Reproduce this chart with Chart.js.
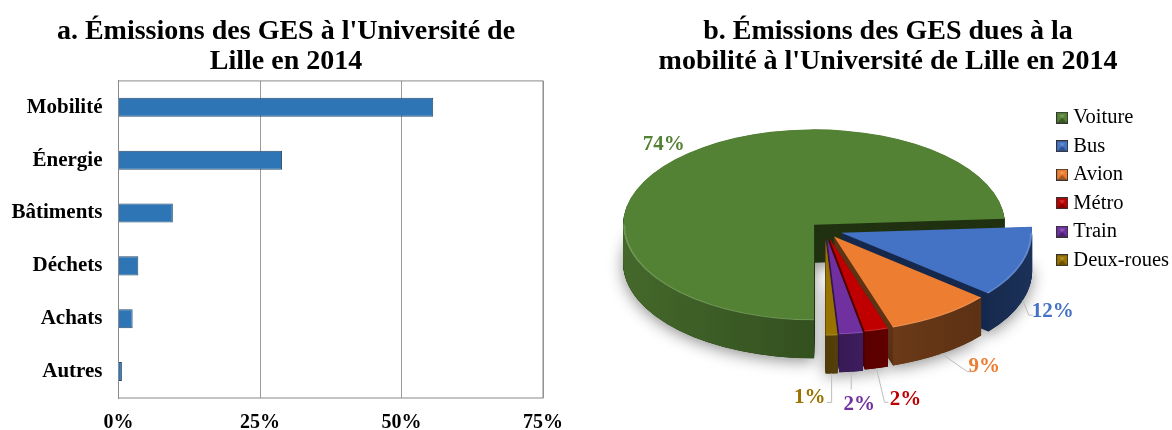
<!DOCTYPE html>
<html lang="fr">
<head>
<meta charset="utf-8">
<title>Émissions des GES</title>
<script src="https://cdn.jsdelivr.net/npm/chart.js@4"></script>
<style>
  html, body { margin: 0; background: #fff; }
  canvas { position: absolute; top: 0; }
  #barres { left: 0; }
  #secteurs { left: 604px; }
</style>
</head>
<body>
<canvas id="barres" width="572" height="430"></canvas>
<canvas id="secteurs" width="568" height="430"></canvas>
<script>
const sources = ["Mobilité", "Énergie", "Bâtiments", "Déchets", "Achats", "Autres"];
const sourceValues = [55.6, 28.9, 9.6, 3.5, 2.5, 0.6];
const xTicks = [0, 25, 50, 75];

const modes = ["Voiture", "Bus", "Avion", "Métro", "Train", "Deux-roues"];
const modeValues = [74, 12, 9, 2, 2, 1];

// couleurs du camembert
const topColors = ["#548235", "#4472C4", "#ED7D31", "#C00000", "#7030A0", "#997300"];
const faceColors = ["#213212", "#172A4E", "#5F3315", "#500000", "#381A55", "#4F3A08"];
const rimColors = [["#44682B", "#33501F"], ["#172A4E", "#1B3159"], ["#6B3A18", "#5C3114"],
  ["#5A0000", "#600000"], ["#381A55", "#3E1D5E"], ["#4F3A08", "#54400A"]];

// réglages de la perspective
const pieCenter = { x: 221, y: 230 };
const squash = 0.5;
const depth = 38;
const explode = [15, 17, 16, 16, 18, 20];
// étiquettes : décalage depuis le bord de la part, puis points du trait de rappel
const labelShift = [[-11, -15], [30, 11], [43, 13], [29, 31], [8, 33], [-22, 24]];
const leaders = [[], [[0, 0], [6, 15], [10, 15]], [[0, 0], [26, 18], [31, 18]], [[0, 0], [8, 34], [12, 34]],
  [[0, 0], [0, 18]], [[0, 0], [0, 29], [-5, 29]]];

const serif = "'Liberation Serif'";
const titleFont = { family: serif, size: 28, weight: "bold", lineHeight: 1.07 };
const tickFont = { family: serif, size: 20, weight: "bold" };
const categoryFont = { family: serif, size: 21, weight: "bold" };

const frame = {
  id: "frame",
  afterDatasetsDraw(chart) {
    const { ctx, chartArea: a } = chart;
    ctx.save();
    ctx.strokeStyle = "#8A8A8A";
    ctx.lineWidth = 1;
    ctx.strokeRect(a.left, a.top, a.width, a.height);
    ctx.restore();
  },
};

new Chart(document.getElementById("barres"), {
  type: "bar",
  plugins: [frame],
  data: {
    labels: sources,
    datasets: [{
      data: sourceValues,
      backgroundColor: "#2E75B6",
      borderColor: "#2A4A68",
      borderWidth: 1,
      categoryPercentage: 1,
      barPercentage: 0.36,
    }],
  },
  options: {
    indexAxis: "y",
    responsive: false,
    animation: false,
    plugins: {
      legend: { display: false },
      tooltip: { enabled: false },
      title: {
        display: true,
        text: ["a. Émissions des GES à l'Université de", "Lille en 2014"],
        color: "#000",
        font: titleFont,
        padding: { top: 17, bottom: 4 },
      },
    },
    scales: {
      x: {
        min: 0,
        max: 75,
        afterBuildTicks(axis) { axis.ticks = xTicks.map(value => ({ value })); },
        afterFit(axis) {
          axis.height = 32;
          axis.paddingRight = 29;
        },
        grid: { color: "#9A9A9A", drawTicks: false },
        border: { display: false },
        ticks: { color: "#000", font: tickFont, padding: 13, maxRotation: 0, callback: v => v + "%" },
      },
      y: {
        afterFit(axis) { axis.width = 118.5; },
        grid: { display: false },
        border: { color: "#8A8A8A" },
        ticks: { color: "#000", font: categoryFont, padding: 8 },
      },
    },
  },
});

function chartCenter(chart) {
  const a = chart.chartArea;
  return { x: (a.left + a.right) / 2, y: (a.top + a.bottom) / 2 };
}

// point du bord de la part, une fois aplatie
function rimPoint(chart, arc) {
  const c = chartCenter(chart);
  const mid = (arc.startAngle + arc.endAngle) / 2;
  const x = arc.x + Math.cos(mid) * arc.outerRadius;
  const y = arc.y + Math.sin(mid) * arc.outerRadius;
  const front = Math.sin(mid) > 0;
  return { x: pieCenter.x + x - c.x, y: pieCenter.y + (y - c.y) * squash + (front ? depth : 0) };
}

// partie de l'arc tournée vers l'avant (angles entre 0 et PI)
function frontRange(arc) {
  const tau = 2 * Math.PI;
  const from = ((arc.startAngle % tau) + tau) % tau;
  const to = from + arc.endAngle - arc.startAngle;
  for (const shift of [0, -tau]) {
    const a0 = Math.max(from + shift, 0);
    const a1 = Math.min(to + shift, Math.PI);
    if (a1 > a0) return [a0, a1];
  }
  return null;
}

function squashed(chart) {
  const { ctx } = chart;
  const c = chartCenter(chart);
  ctx.translate(pieCenter.x, pieCenter.y);
  ctx.scale(1, squash);
  ctx.translate(-c.x, -c.y);
}

const pie3d = {
  id: "pie3d",
  afterLayout(chart) {
    // la légende colle au bord droit de la page
    chart.legend.left += 7;
    chart.legend.right += 7;
  },
  afterDatasetsUpdate(chart) {
    chart.getDatasetMeta(0).data.forEach((arc, i) => {
      const mid = (arc.startAngle + arc.endAngle) / 2;
      arc.x += Math.cos(mid) * explode[i];
      arc.y += Math.sin(mid) * explode[i];
    });
  },
  beforeDatasetsDraw(chart) {
    const { ctx } = chart;
    const arcs = chart.getDatasetMeta(0).data;
    const drop = depth / squash;
    ctx.save();
    squashed(chart);

    // volume de chaque part, avec une ombre douce sous la dernière couche
    arcs.forEach((arc, i) => {
      const saved = arc.options;
      arc.options = { ...saved, backgroundColor: faceColors[i] };
      for (let d = drop; d > 0; d--) {
        ctx.save();
        if (d === drop) {
          ctx.shadowColor = "rgba(0,0,0,0.45)";
          ctx.shadowBlur = 16;
          ctx.shadowOffsetY = 3;
        }
        ctx.translate(0, d);
        arc.draw(ctx);
        ctx.restore();
      }
      arc.options = saved;
    });

    // paroi extérieure, seulement sur la moitié avant
    arcs.forEach((arc, i) => {
      const range = frontRange(arc);
      if (!range) return;
      const [a0, a1] = range;
      const x0 = arc.x + Math.cos(a1) * arc.outerRadius;
      const x1 = arc.x + Math.cos(a0) * arc.outerRadius;
      const g = ctx.createLinearGradient(x0, 0, x1, 0);
      g.addColorStop(0, rimColors[i][0]);
      g.addColorStop(1, rimColors[i][1]);
      ctx.fillStyle = g;
      ctx.beginPath();
      ctx.arc(arc.x, arc.y, arc.outerRadius, a0, a1);
      ctx.arc(arc.x, arc.y + drop, arc.outerRadius, a1, a0, true);
      ctx.closePath();
      ctx.fill();
    });
  },
  afterDatasetsDraw(chart) {
    const { ctx } = chart;
    // liseré clair au bord avant des faces
    chart.getDatasetMeta(0).data.forEach(arc => {
      const range = frontRange(arc);
      if (!range) return;
      ctx.strokeStyle = "rgba(255,255,255,0.16)";
      ctx.lineWidth = 2;
      ctx.beginPath();
      ctx.arc(arc.x, arc.y, arc.outerRadius - 1, range[0], range[1]);
      ctx.stroke();
    });
    ctx.restore();

    ctx.save();
    ctx.font = "bold 21px " + serif;
    ctx.textAlign = "center";
    ctx.textBaseline = "middle";
    chart.getDatasetMeta(0).data.forEach((arc, i) => {
      const p = rimPoint(chart, arc);
      if (leaders[i].length) {
        ctx.strokeStyle = "#BDBDBD";
        ctx.lineWidth = 1;
        ctx.beginPath();
        leaders[i].forEach(b => ctx.lineTo(p.x + b[0], p.y + b[1]));
        ctx.stroke();
      }
      ctx.fillStyle = topColors[i];
      ctx.fillText(modeValues[i] + "%", p.x + labelShift[i][0], p.y + labelShift[i][1]);
    });
    ctx.restore();
  },
};

// petit carré biseauté de la légende
function swatch(color) {
  const c = document.createElement("canvas");
  c.width = c.height = 12;
  const g = c.getContext("2d");
  g.fillStyle = "#333";
  g.fillRect(0, 0, 12, 12);
  g.fillStyle = color;
  g.fillRect(1, 1, 10, 10);
  g.fillStyle = "rgba(0,0,0,0.3)";
  g.beginPath();
  g.moveTo(1, 11); g.lineTo(6, 6); g.lineTo(11, 11);
  g.fill();
  g.fillStyle = "rgba(255,255,255,0.2)";
  g.beginPath();
  g.moveTo(3, 3); g.lineTo(9, 3); g.lineTo(6, 6.5);
  g.fill();
  return c;
}

new Chart(document.getElementById("secteurs"), {
  type: "pie",
  plugins: [pie3d],
  data: {
    labels: modes,
    datasets: [{
      data: modeValues,
      backgroundColor: topColors,
      borderWidth: 0,
      radius: 191,
      clip: false,
    }],
  },
  options: {
    responsive: false,
    animation: false,
    rotation: 180,
    layout: { padding: { bottom: 52 } },
    plugins: {
      tooltip: { enabled: false },
      title: {
        display: true,
        text: ["b. Émissions des GES dues à la", "mobilité à l'Université de Lille en 2014"],
        color: "#000",
        font: titleFont,
        padding: { top: 17, bottom: 4 },
      },
      legend: {
        position: "right",
        align: "center",
        labels: {
          color: "#000",
          font: { family: serif, size: 20.5 },
          usePointStyle: true,
          boxWidth: 2,
          boxHeight: 13,
          padding: 8,
          generateLabels(chart) {
            return Chart.overrides.pie.plugins.legend.labels.generateLabels(chart)
              .map((item, i) => ({ ...item, pointStyle: swatch(topColors[i]) }));
          },
        },
      },
    },
  },
});
</script>
</body>
</html>
